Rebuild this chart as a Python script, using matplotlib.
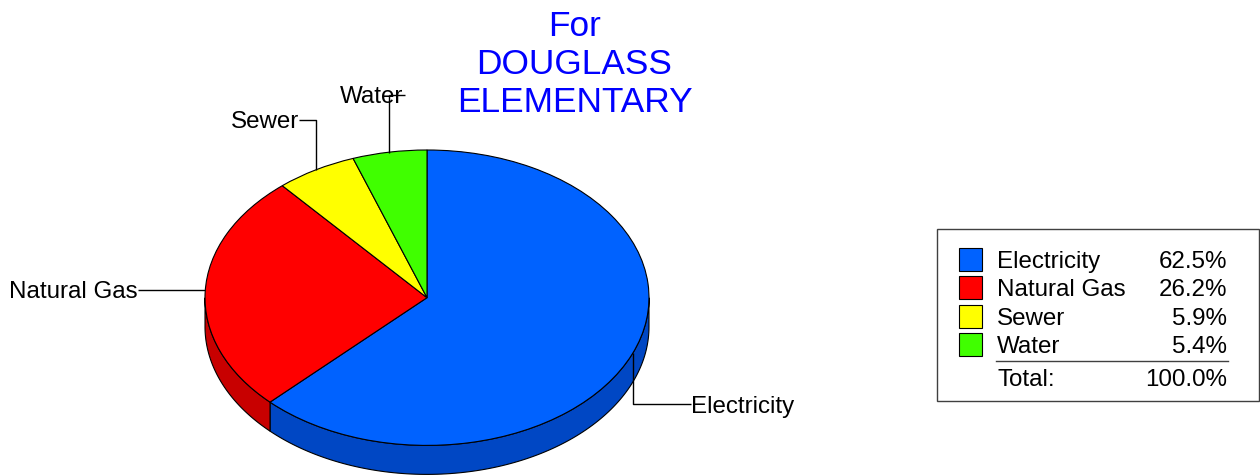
import numpy as np
import matplotlib
matplotlib.use('Agg')
import matplotlib.pyplot as plt
from matplotlib.patches import Rectangle

plt.rcParams['font.family'] = ['Liberation Sans', 'DejaVu Sans']

categories = ['Electricity', 'Natural Gas', 'Sewer', 'Water']
shares = [62.5, 26.2, 5.9, 5.4]
pct_labels = ['62.5%', '26.2%', '5.9%', '5.4%']
total_label = '100.0%'
colors = ['#0062ff', '#ff0000', '#ffff00', '#40ff00']
side_colors = ['#0047c4', '#c80000', '#c8c800', '#30c800']
title_lines = ['For', 'DOUGLASS', 'ELEMENTARY']

W, H = 1260, 475
fig = plt.figure(figsize=(W / 100, H / 100), dpi=100)

# pixel overlay for text and leader lines, y runs down like in the picture
ov = fig.add_axes([0, 0, 1, 1], zorder=3)
ov.set_xlim(0, W)
ov.set_ylim(H, 0)
ov.axis('off')
ov.patch.set_alpha(0)

# pie axes: unit circle squashed into the ellipse
cx, cy, rx, ry, depth = 427, 297.7, 222, 147.7, 29
ax = fig.add_axes([(cx - rx) / W, (H - cy - ry) / H, 2 * rx / W, 2 * ry / H], zorder=2)
ax.patch.set_alpha(0)
d = depth / ry

# side wall first, only the part facing the front (0 to -180 deg)
start = 90.0
for share, col in zip(shares, side_colors):
    end = start - share * 3.6
    a0, a1 = min(start, 0), max(end, -180)
    if a0 > a1:
        t = np.radians(np.linspace(a0, a1, 120))
        xs = np.r_[np.cos(t), np.cos(t[::-1])]
        ys = np.r_[np.sin(t), np.sin(t[::-1]) - d]
        ax.fill(xs, ys, facecolor=col, edgecolor='black', lw=0.8, clip_on=False)
    start = end

ax.pie(shares, colors=colors, startangle=90, counterclock=False, radius=1,
       wedgeprops=dict(edgecolor='black', linewidth=0.8, clip_on=False))
ax.set_aspect('auto')
ax.set_xlim(-1, 1)
ax.set_ylim(-1, 1)
ax.axis('off')

# leader lines
lc = dict(color='black', lw=1.0, solid_capstyle='butt')
ov.plot([633, 633, 691], [353, 404, 404], **lc)
ov.plot([138, 205], [290, 290], **lc)
ov.plot([299, 316, 316], [120, 120, 170], **lc)
ov.plot([389, 389], [153, 95], **lc)
ov.plot([389, 405], [95, 95], **lc)

fs = 17.4
ov.text(691, 407, categories[0], fontsize=fs, ha='left', va='center')
ov.text(138, 292, categories[1], fontsize=fs, ha='right', va='center')
ov.text(299, 122, categories[2], fontsize=fs, ha='right', va='center')
ov.text(340, 97, categories[3], fontsize=fs, ha='left', va='center')

for y, line in zip([26, 64, 103], title_lines):
    ov.text(574.5, y, line, fontsize=25.4, color='#0000ff', ha='center', va='center')

# legend box
ov.add_patch(Rectangle((937, 229), 322, 172, fc='white', ec='#404040', lw=1.0))
rows = [262, 290, 319, 347]
for y, cat, pct, col in zip(rows, categories, pct_labels, colors):
    ov.add_patch(Rectangle((959, y - 14), 23, 23, fc=col, ec='black', lw=0.8))
    ov.text(997, y, cat, fontsize=fs, ha='left', va='center')
    ov.text(1227, y, pct, fontsize=fs, ha='right', va='center')
ov.plot([996, 1228], [361, 361], color='#404040', lw=1.0)
ov.text(997, 379.5, 'Total:', fontsize=fs, ha='left', va='center')
ov.text(1227, 379.5, total_label, fontsize=fs, ha='right', va='center')

plt.savefig('out.png', dpi=100)
